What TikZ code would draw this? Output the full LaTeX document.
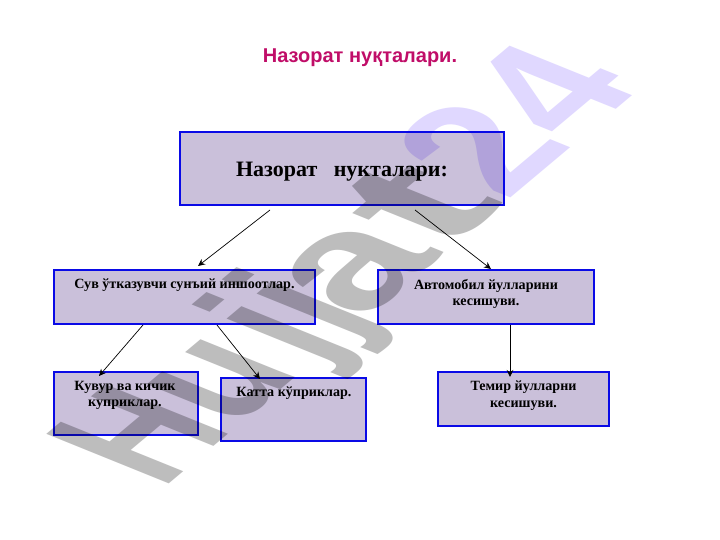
\documentclass[tikz,border=0pt]{standalone}
\usepackage{fontspec}
\usepackage{graphicx}
\setmainfont{Liberation Serif}
\newfontfamily\arialf{Liberation Sans}
\usetikzlibrary{arrows.meta}
\definecolor{boxfill}{HTML}{CAC0DA}
\definecolor{boxline}{HTML}{0A0AE6}
\definecolor{titlec}{HTML}{C00D68}
\definecolor{wmgrey}{HTML}{BDBDBD}
\definecolor{wmlav}{HTML}{E0D8FF}
\tikzset{
  x=1pt,y=-1pt,
  boxn/.style={draw=boxline,line width=2.4pt,fill=boxfill,anchor=north west,inner sep=0pt,outer sep=0pt},
  lab/.style={font=\bfseries\fontsize{14.1}{16.5}\selectfont,align=center,inner sep=0pt,text=black},
  conn/.style={draw=black,line width=0.7pt,-{Stealth[length=7pt,width=6.5pt]}},
}
\begin{document}
\begin{tikzpicture}
\useasboundingbox (0,0) rectangle (720,540);
\fill[white] (0,0) rectangle (720,540);
\node[boxn,minimum width=324pt,minimum height=73pt] (top) at (180,132) {};
\node[boxn,minimum width=261pt,minimum height=54pt] (a) at (54,270) {};
\node[boxn,minimum width=216pt,minimum height=54pt] (b) at (378,270) {};
\node[boxn,minimum width=144pt,minimum height=63pt] (c) at (54,372) {};
\node[boxn,minimum width=145pt,minimum height=63pt] (d) at (221,378) {};
\node[boxn,minimum width=171pt,minimum height=54pt] (e) at (438,372) {};
\node[inner sep=0pt,font=\arialf\bfseries\fontsize{20}{24}\selectfont,text=titlec] (title) at (360,58) {Назорат нуқталари.};
\node[inner sep=0pt,font=\bfseries\fontsize{22}{26}\selectfont] (toplab) at (342,172) {Назорат\ \ \ нукталари:};
\node[lab] (alab) at (184.5,285.5) {Сув ўтказувчи сунъий иншоотлар.};
\node[lab] (blab) at (486,294) {Автомобил йулларини\\кесишуви.};
\node[lab] (clab) at (125,395.5) {Кувур ва кичик\\куприклар.};
\node[lab] (dlab) at (294,393.5) {Катта кўприклар.};
\node[lab] (elab) at (523.5,395.5) {Темир йулларни\\кесишуви.};
\coordinate (t1) at (270,210);
\coordinate (t2) at (415,210);
\coordinate (a1) at (143,325);
\coordinate (a2) at (217,325);
\coordinate (b1) at (510,325);
\coordinate (ea) at (198,266);
\coordinate (eb) at (491,269);
\coordinate (ec) at (99,376);
\coordinate (ed) at (260,379);
\coordinate (ee) at (510,377);
\draw[conn] (t1) -- (ea);
\draw[conn] (t2) -- (eb);
\draw[conn] (a1) -- (ec);
\draw[conn] (a2) -- (ed);
\draw[conn] (b1) -- (ee);
\begin{scope}[blend mode=multiply]
\node[cm={1.242,1.042,-1.78,0.72,(0,0)},transform shape,anchor=base west,inner sep=0pt,font=\arialf\bfseries\fontsize{100}{100}\selectfont] (wm) at (162,490) {\textcolor{wmgrey}{\scalebox{.81}[1]{H}\scalebox{.9}[1]{u}\kern8pt\scalebox{.87}[1]{j}\scalebox{.87}[1]{j}\kern-8pt\scalebox{1.17}[1]{a}\scalebox{1.5}[1]{t}}\textcolor{wmlav}{24}};
\end{scope}
\end{tikzpicture}
\end{document}
